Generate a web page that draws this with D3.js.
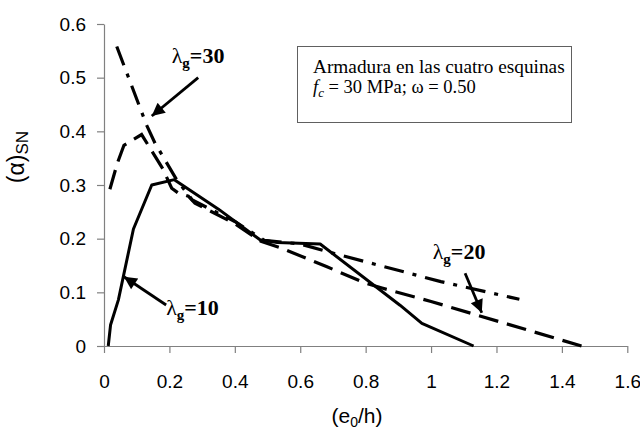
<!DOCTYPE html>
<html>
<head>
<meta charset="utf-8">
<script src="https://cdn.jsdelivr.net/npm/d3@7"></script>
<style>
  html, body { margin: 0; padding: 0; background: #fff; }
  svg { display: block; }
</style>
</head>
<body>
<svg id="chart" width="640" height="434"></svg>
<script>
// ---- data ----
const xTicks = [0, 0.2, 0.4, 0.6, 0.8, 1, 1.2, 1.4, 1.6];
const yTicks = [0, 0.1, 0.2, 0.3, 0.4, 0.5, 0.6];

// lambda_g = 10 (solid)
const lambda10 = [
  [0.013, 0], [0.02, 0.039], [0.044, 0.086], [0.09, 0.218], [0.146, 0.300],
  [0.215, 0.310], [0.35, 0.255], [0.477, 0.198], [0.53, 0.193], [0.661, 0.190],
  [0.905, 0.076], [0.972, 0.042], [1.13, 0]
];
// lambda_g = 20 (dashed)
const lambda20 = [
  [0.018, 0.292], [0.041, 0.341], [0.061, 0.374], [0.115, 0.394], [0.18, 0.330],
  [0.207, 0.294], [0.227, 0.285], [0.258, 0.279], [0.278, 0.266], [0.40, 0.228],
  [0.48, 0.195], [0.54, 0.183], [0.68, 0.148], [0.80, 0.117], [0.85, 0.108],
  [1.0, 0.083], [1.46, 0]
];
// lambda_g = 30 (dash-dot)
const lambda30 = [
  [0.039, 0.558], [0.13, 0.412], [0.156, 0.378], [0.222, 0.310], [0.27, 0.272],
  [0.40, 0.232], [0.49, 0.197], [0.60, 0.190], [0.70, 0.173], [1.03, 0.120], [1.27, 0.087]
];

// annotations: label anchor and arrow (start -> tip), in data units
const labelNames = ["30", "10", "20"];
const labelPos = [[0.207, 0.527], [0.19, 0.058], [1.005, 0.162]];
const arrowFrom = [[0.288, 0.500], [0.19, 0.0764], [1.104, 0.1355]];
const arrowTo = [[0.146, 0.4286], [0.061, 0.129], [1.155, 0.062]];

const legendLines = ["Armadura en las cuatro esquinas"];

// ---- drawing ----
const svg = d3.select("#chart");
const x = d3.scaleLinear().domain([0, 1.6]).range([104, 627.3]);
const y = d3.scaleLinear().domain([0, 0.6]).range([346, 24]);
const axisColor = "#808080";

const fmt = d => String(d);

const gx = svg.append("g").attr("transform", `translate(0,${y(0)})`)
  .call(d3.axisBottom(x).tickValues(xTicks).tickFormat(fmt).tickSize(7).tickSizeOuter(0).tickPadding(22));
const gy = svg.append("g").attr("transform", `translate(${x(0)},0)`)
  .call(d3.axisLeft(y).tickValues(yTicks).tickFormat(fmt).tickSize(7).tickSizeOuter(0).tickPadding(11));

[gx, gy].forEach(g => {
  g.select(".domain").attr("stroke", axisColor).attr("stroke-width", 1.2);
  g.selectAll(".tick line").attr("stroke", axisColor).attr("stroke-width", 1.2);
  g.selectAll(".tick text").attr("fill", "#000")
    .style("font-family", "'Liberation Sans', Arial, sans-serif").style("font-size", "19px");
});

// axis titles
svg.append("text")
  .attr("x", 357).attr("y", 423)
  .attr("text-anchor", "middle")
  .style("font-family", "'Liberation Sans', Arial, sans-serif").style("font-size", "21px")
  .call(t => {
    t.append("tspan").text("(e");
    t.append("tspan").attr("dy", 4).style("font-size", "14px").text("0");
    t.append("tspan").attr("dy", -4).text("/h)");
  });

svg.append("text")
  .attr("transform", "translate(24,157) rotate(-90)")
  .attr("text-anchor", "middle")
  .style("font-family", "'Liberation Sans', Arial, sans-serif").style("font-size", "23px")
  .call(t => {
    t.append("tspan").text("(α)");
    t.append("tspan").attr("dy", 4).style("font-size", "17px").text("SN");
  });

// lines
const line = d3.line().x(d => x(d[0])).y(d => y(d[1]));
svg.append("path").datum(lambda10).attr("d", line)
  .attr("fill", "none").attr("stroke", "#000").attr("stroke-width", 3).attr("stroke-linejoin", "round");
svg.append("path").datum(lambda20).attr("d", line)
  .attr("fill", "none").attr("stroke", "#000").attr("stroke-width", 3.2)
  .attr("stroke-dasharray", "20,9");
svg.append("path").datum(lambda30).attr("d", line)
  .attr("fill", "none").attr("stroke", "#000").attr("stroke-width", 3.2)
  .attr("stroke-dasharray", "20,9,4,9");

// legend box
const lg = svg.append("g");
lg.append("rect").attr("x", 297.5).attr("y", 46.5).attr("width", 274).attr("height", 76)
  .attr("fill", "#fff").attr("stroke", "#606060").attr("stroke-width", 1);
lg.append("text").attr("x", 313).attr("y", 73)
  .style("font-family", "'Liberation Serif', 'Times New Roman', serif").style("font-size", "19.3px")
  .text(legendLines[0]);
lg.append("text").attr("x", 313).attr("y", 93)
  .style("font-family", "'Liberation Serif', 'Times New Roman', serif").style("font-size", "18.5px")
  .call(t => {
    t.append("tspan").style("font-style", "italic").text("f");
    t.append("tspan").attr("dy", 4).style("font-style", "italic").style("font-size", "13px").text("c");
    t.append("tspan").attr("dy", -4).text(" = 30 MPa; ω = 0.50");
  });

// annotations
svg.append("defs").append("marker")
  .attr("id", "ah").attr("viewBox", "0 0 10 10").attr("refX", 10).attr("refY", 5)
  .attr("markerWidth", 5.5).attr("markerHeight", 4.6).attr("markerUnits", "strokeWidth")
  .attr("orient", "auto")
  .append("path").attr("d", "M0,0 L10,5 L0,10 Z").attr("fill", "#000");

labelNames.forEach((name, i) => {
  svg.append("line")
    .attr("x1", x(arrowFrom[i][0])).attr("y1", y(arrowFrom[i][1]))
    .attr("x2", x(arrowTo[i][0])).attr("y2", y(arrowTo[i][1]))
    .attr("stroke", "#000").attr("stroke-width", 2.8).attr("marker-end", "url(#ah)");
  svg.append("text")
    .attr("x", x(labelPos[i][0])).attr("y", y(labelPos[i][1]))
    .style("font-family", "'Liberation Serif', 'Times New Roman', serif").style("font-size", "22px")
    .call(t => {
      t.append("tspan").text("λ");
      t.append("tspan").attr("dy", 5).style("font-size", "15px").style("font-weight", "bold").text("g");
      t.append("tspan").attr("dy", -5).style("font-weight", "bold").text("=" + name);
    });
});
</script>
</body>
</html>
